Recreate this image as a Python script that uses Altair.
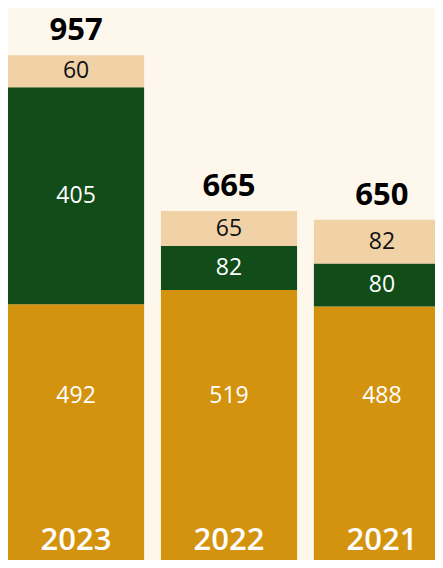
import altair as alt
import pandas as pd

years = ["2023", "2022", "2021"]
categories = ["base", "middle", "top"]
base_vals = [492, 519, 488]
middle_vals = [405, 82, 80]
top_vals = [60, 65, 82]
total_labels = [957, 665, 650]
colors = ["#D3930F", "#114C19", "#F0D2A6"]
bg = "#FEF7EC"

rows = []
for i, y in enumerate(years):
    for j, (c, v) in enumerate(zip(categories, [base_vals[i], middle_vals[i], top_vals[i]])):
        rows.append({"year": y, "cat": c, "order": j, "value": v})
df = pd.DataFrame(rows)
tot_df = pd.DataFrame({
    "year": years,
    "height": [b + m + t for b, m, t in zip(base_vals, middle_vals, top_vals)],
    "label": total_labels,
})

W, H = 427, 552
x = alt.X("year:N", sort=years, axis=None,
          scale=alt.Scale(paddingInner=0.11, paddingOuter=0, range=[0, 442]))
yscale = alt.Scale(domain=[0, 1045], nice=False, zero=True, range=[560, 0])

base = alt.Chart(df)

bars = base.mark_bar(clip=True).encode(
    x=x,
    y=alt.Y("sum(value):Q", stack="zero", scale=yscale, axis=None),
    color=alt.Color("cat:N", scale=alt.Scale(domain=categories, range=colors), legend=None),
    order=alt.Order("order:Q", sort="ascending"),
)

seg = base.transform_stack(
    stack="value", groupby=["year"], as_=["y0", "y1"],
    sort=[alt.SortField("order", order="ascending")]
).transform_filter(
    "datum.cat != 'base'"
).transform_calculate(
    mid="(datum.y0 + datum.y1) / 2"
).mark_text(font="Open Sans", fontSize=23, baseline="middle").encode(
    x=x,
    y=alt.Y("mid:Q", scale=yscale),
    text="value:Q",
    color=alt.condition("datum.cat == 'top'", alt.value("#111111"), alt.value("#FFFFFF")),
)

base_lbl = base.transform_filter(
    "datum.cat == 'base'"
).mark_text(font="Open Sans", fontSize=23, baseline="middle", color="#FFFFFF").encode(
    x=x,
    y=alt.datum(321, scale=yscale),
    text="value:Q",
)

totals = alt.Chart(tot_df).mark_text(
    font="Open Sans", fontSize=31, fontWeight="bold", baseline="alphabetic",
    dy=-15, color="#000000"
).encode(
    x=x,
    y=alt.Y("height:Q", scale=yscale),
    text="label:Q",
)

yrs = alt.Chart(tot_df).mark_text(
    font="Open Sans", fontSize=31, fontWeight=600, baseline="alphabetic",
    dy=-18, color="#FFFFFF"
).encode(
    x=x,
    y=alt.datum(0, scale=yscale),
    text="year:N",
)

chart = alt.layer(bars, seg, base_lbl, totals, yrs).properties(
    width=W, height=H, background=bg, padding=0,
    autosize=alt.AutoSizeParams(type="none"),
).configure_view(stroke=None)

chart.save("out.html", embed_options={"renderer": "svg", "actions": False})
